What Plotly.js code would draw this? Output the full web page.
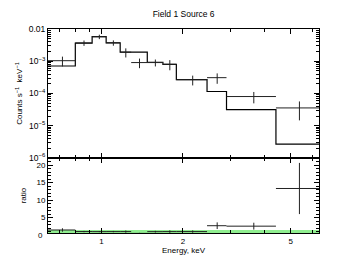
<!DOCTYPE html>
<html>
<head>
<meta charset="utf-8">
<script src="https://cdn.plot.ly/plotly-3.0.1.min.js"></script>
<style>html,body{margin:0;padding:0;background:#fff;}#chart{width:340px;height:262px;}</style>
</head>
<body>
<div id="chart"></div>
<script>
// Bin edges (keV)
const binEdges = [0.635, 0.801, 0.924, 1.041, 1.173, 1.288, 1.477, 1.687, 1.891, 2.455, 2.897, 4.41, 6.36];
// Data: counts s^-1 keV^-1 and 1-sigma errors
const counts = [1.04e-3, 3.7e-3, 5.75e-3, 3.73e-3, 1.91e-3, 9.1e-4, 9.1e-4, 8.05e-4, 2.68e-4, 3.1e-4, 8.05e-5, 3.57e-5];
const countErr = [3.5e-4, 7e-4, 9e-4, 7e-4, 6e-4, 3e-4, 2.2e-4, 2.8e-4, 9e-5, 1.1e-4, 3.1e-5, 2.1e-5];
// Model (folded) per bin
const model = [7.13e-4, 3.65e-3, 5.8e-3, 3.73e-3, 1.91e-3, 1.91e-3, 9.3e-4, 8.05e-4, 2.68e-4, 1.155e-4, 3.16e-5, 2.68e-6];
// Ratio data / model
const ratio = [1.46, 1.01, 0.99, 1.0, 1.0, 0.48, 0.98, 1.0, 1.0, 2.68, 2.55, 13.3];
const ratioErr = [0.49, 0.19, 0.15, 0.19, 0.31, 0.16, 0.24, 0.35, 0.34, 0.95, 0.98, 7.3];
// Tick labels
const xTickVals = [1, 2, 5];
const xTickText = ['1', '2', '5'];
const yTickVals = [1e-6, 1e-5, 1e-4, 1e-3, 1e-2];
const yTickText = ['10<sup>\u22126</sup>', '10<sup>\u22125</sup>', '10<sup>\u22124</sup>', '10<sup>\u22123</sup>', '0.01'];
const rTickVals = [0, 5, 10, 15, 20];
const rTickText = ['0', '5', '10', '15', '20'];

const centers = [], exPlus = [], exMinus = [];
for (let i = 0; i < counts.length; i++) {
  const c = (binEdges[i] + binEdges[i + 1]) / 2;
  centers.push(c);
  exPlus.push(binEdges[i + 1] - c);
  exMinus.push(c - binEdges[i]);
}
const modelStep = model.concat([model[model.length - 1]]);

// minor ticks
const xMinor = [0.7, 0.8, 0.9, 3, 4, 6];
const yMinor = [];
for (let d = -6; d < -2; d++) for (let k = 2; k <= 9; k++) yMinor.push(k * Math.pow(10, d));

const font = {family: 'Liberation Sans, Arial, sans-serif', size: 8, color: '#000'};

const traces = [
  {x: binEdges, y: modelStep, xaxis: 'x2', yaxis: 'y', mode: 'lines',
   line: {shape: 'hv', color: '#000', width: 1.2}, hoverinfo: 'skip'},
  {x: centers, y: counts, xaxis: 'x2', yaxis: 'y', mode: 'markers', marker: {size: 0.1, color: '#000'},
   error_x: {type: 'data', symmetric: false, array: exPlus, arrayminus: exMinus, width: 0, thickness: 1, color: '#222'},
   error_y: {type: 'data', array: countErr, width: 0, thickness: 1, color: '#222'}},
  {x: [binEdges[0], binEdges[binEdges.length - 1]], y: [1, 1], xaxis: 'x', yaxis: 'y2', mode: 'lines',
   line: {color: '#90ee90', width: 3}, hoverinfo: 'skip', cliponaxis: false},
  {x: centers, y: ratio, xaxis: 'x', yaxis: 'y2', mode: 'markers', marker: {size: 0.1, color: '#000'},
   error_x: {type: 'data', symmetric: false, array: exPlus, arrayminus: exMinus, width: 0, thickness: 1, color: '#222'},
   error_y: {type: 'data', array: ratioErr, width: 0, thickness: 1, color: '#222'}}
];

const xr = [Math.log10(binEdges[0]), Math.log10(binEdges[binEdges.length - 1])];
const xCommon = {
  type: 'log', range: xr, showline: true, linecolor: '#000', linewidth: 1, mirror: 'allticks',
  ticks: 'inside', ticklen: 5, tickcolor: '#000', tickwidth: 1,
  tickmode: 'array', tickvals: xTickVals, ticktext: xTickText,
  minor: {ticks: 'inside', ticklen: 3, tickcolor: '#000', tickvals: xMinor},
  showgrid: false, zeroline: false, tickfont: font
};

const rRange = [0.6, 22];
const rDomain = [0, 0.3676];
// paper position of the ratio-axis "0" label (just below the axis range)
const zeroPaperY = rDomain[0] + (rTickVals[0] - rRange[0]) / (rRange[1] - rRange[0]) * (rDomain[1] - rDomain[0]);

const layout = {
  width: 340, height: 262,
  margin: {l: 48, r: 21, t: 29, b: 29},
  paper_bgcolor: '#fff', plot_bgcolor: '#fff',
  showlegend: false,
  font: font,
  title: {text: 'Field 1 Source 6', x: 0.54, xanchor: 'center', y: 0.947, yanchor: 'middle',
          font: {family: 'Liberation Sans, Arial, sans-serif', size: 8.5, color: '#000'}},
  xaxis: Object.assign({}, xCommon, {anchor: 'y2', domain: [0, 1],
    title: {text: 'Energy, keV', standoff: 2, font: font}}),
  xaxis2: Object.assign({}, xCommon, {anchor: 'y', matches: 'x', showticklabels: false}),
  yaxis: {type: 'log', range: [-6, -2], domain: [rDomain[1], 1], showline: true, linecolor: '#000', linewidth: 1,
    mirror: 'allticks', ticks: 'inside', ticklen: 5, tickcolor: '#000', tickmode: 'array',
    tickvals: yTickVals, ticktext: yTickText,
    minor: {ticks: 'inside', ticklen: 3, tickcolor: '#000', tickvals: yMinor},
    showgrid: false, zeroline: false, tickfont: {family: font.family, size: 8.5, color: '#000'},
    title: {text: 'Counts s<sup>\u22121</sup>  keV<sup>\u22121</sup>', standoff: 4, font: font}},
  yaxis2: {range: rRange, domain: rDomain, showline: true, linecolor: '#000', linewidth: 1,
    mirror: 'allticks', ticks: 'inside', ticklen: 5, tickcolor: '#000', tickmode: 'array',
    tickvals: rTickVals, ticktext: rTickText,
    minor: {ticks: 'inside', ticklen: 3, tickcolor: '#000', dtick: 1},
    showgrid: false, zeroline: false, tickfont: font,
    title: {text: 'ratio', standoff: 8, font: font}},
  annotations: [
    {text: rTickText[0], xref: 'paper', yref: 'paper', x: 0, y: zeroPaperY, xanchor: 'right', yanchor: 'middle',
     xshift: -3, showarrow: false, font: font}
  ]
};

Plotly.newPlot('chart', traces, layout, {staticPlot: true, displayModeBar: false});
</script>
</body>
</html>
